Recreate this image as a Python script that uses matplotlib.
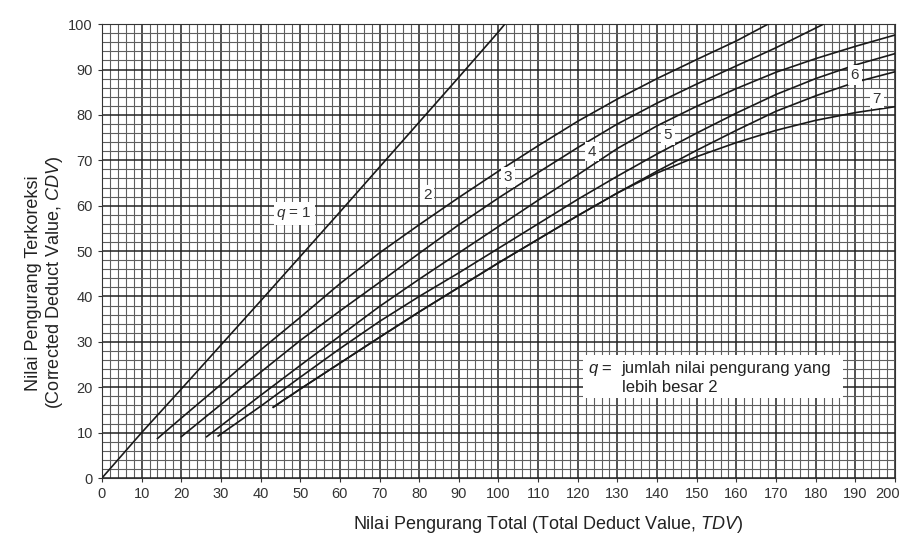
import matplotlib.pyplot as plt
import matplotlib.transforms as mtransforms
import numpy as np

plt.rcParams['font.family'] = ['Liberation Sans', 'DejaVu Sans']
plt.rcParams['mathtext.fontset'] = 'custom'
plt.rcParams['mathtext.rm'] = 'Liberation Sans'
plt.rcParams['mathtext.it'] = 'Liberation Sans:italic'

# curves (TDV, CDV)
q1_x = [0, 10, 20, 30, 40, 50, 60, 70, 80, 90, 100, 101.6]
q1_y = [0, 10, 19.6, 29.3, 39.0, 48.8, 58.6, 68.5, 78.4, 88.3, 98.3, 100]

q2_x = [14, 20, 30, 40, 50, 60, 70, 80, 90, 100, 110, 120, 130, 140, 150, 160, 168]
q2_y = [8.7, 13.2, 20.6, 28.2, 35.4, 42.8, 49.6, 55.8, 61.8, 67.6, 73.2, 78.6, 83.5, 88.0, 92.2, 96.3, 100]

q3_x = [20, 30, 40, 50, 60, 70, 80, 90, 100, 110, 120, 130, 140, 150, 160, 170, 182]
q3_y = [9.1, 16.2, 23.3, 30.3, 36.8, 43.1, 49.5, 55.8, 61.7, 67.3, 72.8, 78.0, 82.6, 86.8, 90.8, 94.8, 100]

q4_x = [26.4, 40, 50, 60, 70, 80, 90, 100, 110, 120, 130, 140, 150, 160, 170, 180, 190, 200]
q4_y = [9.1, 18.2, 24.8, 31.3, 37.8, 43.8, 49.6, 55.4, 61.2, 66.8, 72.6, 77.6, 81.9, 85.8, 89.4, 92.4, 95.1, 97.6]

q5_x = [29.3, 40, 50, 60, 70, 80, 90, 100, 110, 120, 130, 140, 150, 160, 170, 180, 190, 200]
q5_y = [9.25, 15.8, 22.2, 28.5, 34.5, 40.0, 45.2, 50.6, 56.0, 61.4, 66.5, 71.4, 76.0, 80.4, 84.5, 88.0, 91.0, 93.5]

q6_x = [43.2, 50, 60, 70, 80, 90, 100, 110, 120, 130, 140, 150, 160, 170, 180, 190, 200]
q6_y = [15.6, 19.6, 25.3, 31.0, 36.6, 42.0, 47.4, 52.6, 57.8, 62.8, 67.6, 72.2, 76.6, 80.8, 84.2, 87.2, 89.5]

q7_x = [43.2, 50, 60, 70, 80, 90, 100, 110, 120, 130, 140, 150, 160, 170, 180, 190, 200]
q7_y = [15.6, 19.6, 25.3, 31.0, 36.6, 42.0, 47.4, 52.6, 57.8, 62.8, 67.2, 70.8, 73.9, 76.6, 78.8, 80.5, 81.8]

curves = [(q1_x, q1_y), (q2_x, q2_y), (q3_x, q3_y), (q4_x, q4_y),
          (q5_x, q5_y), (q6_x, q6_y), (q7_x, q7_y)]

# curve labels (text, x, y)
labels = [('$q$ = 1', 48.5, 58.3), ('2', 82, 62.3), ('3', 102.4, 66.3),
          ('4', 123.5, 71.9), ('5', 142.7, 75.5), ('6', 189.9, 88.8), ('7', 195.4, 83.6)]

fig = plt.figure(figsize=(9.04, 5.36), dpi=100)
ax = fig.add_axes([0.1128, 0.1082, 0.8772, 0.8468])

ax.set_xlim(0, 200)
ax.set_ylim(0, 100)
ax.set_xticks(np.arange(0, 201, 10))
ax.set_yticks(np.arange(0, 101, 10))
ax.set_xticks(np.arange(0, 201, 2), minor=True)
ax.set_yticks(np.arange(0, 101, 2), minor=True)
ax.grid(which='minor', color='#5e5e5e', lw=0.8)
ax.grid(which='major', color='#222222', lw=1.1)
ax.set_axisbelow(True)
ax.tick_params(which='minor', length=0)
ax.tick_params(which='major', length=3, labelsize=10.5, colors='#333333')
for s in ax.spines.values():
    s.set_color('#333333')

# last x tick label sits inside the figure edge
last = ax.get_xticklabels()[-1]
last.set_horizontalalignment('right')
last.set_transform(last.get_transform() + mtransforms.ScaledTranslation(5 / 100, 0, fig.dpi_scale_trans))

for cx, cy in curves:
    ax.plot(cx, cy, color='#1a1a1a', lw=1.2, zorder=3)

for t, lx, ly in labels:
    ax.text(lx, ly, t, fontsize=11, ha='center', va='center', color='#333333', zorder=4,
            bbox=dict(facecolor='white', edgecolor='none', pad=2))

# note box
ax.add_patch(plt.Rectangle((121.3, 17.6), 65.6, 9.5, facecolor='white', edgecolor='none', zorder=4))
ax.text(122.6, 23.1, '$q$ =', fontsize=12, ha='left', va='baseline', color='#222222', zorder=5)
ax.text(131.1, 23.1, 'jumlah nilai pengurang yang', fontsize=12, ha='left', va='baseline', color='#222222', zorder=5)
ax.text(131.1, 18.9, 'lebih besar 2', fontsize=12, ha='left', va='baseline', color='#222222', zorder=5)

ax.set_xlabel('Nilai Pengurang Total (Total Deduct Value, $TDV$)', fontsize=13, color='#222222')
ax.xaxis.set_label_coords(0.562, -0.08)
ax.set_ylabel('Nilai Pengurang Terkoreksi\n(Corrected Deduct Value, $CDV$)', fontsize=13, color='#222222', linespacing=1.1)
ax.yaxis.set_label_coords(-0.047, 0.43)

fig.savefig('out.png', dpi=100)
